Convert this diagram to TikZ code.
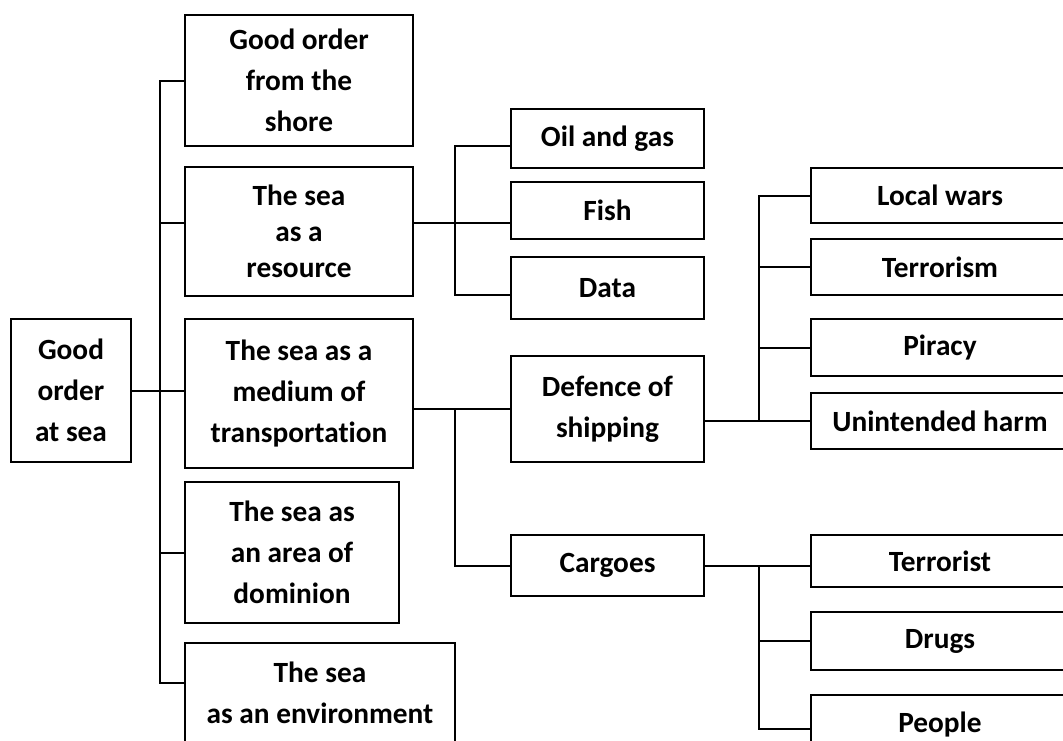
\documentclass[tikz,border=0pt]{standalone}
\usepackage{fontspec}
\setmainfont{Carlito}[Ligatures=NoCommon]
\begin{document}
\begin{tikzpicture}[x=0.75pt,y=-0.75pt,line width=1.5pt]
  % Local definitions
  \def\px{0.75pt}

  % Styles
  \tikzstyle{box}=[draw,inner sep=0pt,outer sep=0pt,align=center,
    font=\fontsize{22}{30.75}\selectfont\bfseries]
  \tikzstyle{topic box}=[box,minimum width=228*\px]
  \tikzstyle{mid box}=[box,minimum width=193*\px]
  \tikzstyle{end box}=[box,minimum width=258*\px]

  % The frame
  \clip (0,0) rectangle (1063,740);

  % Root and the five topics
  \node[box,minimum width=120*\px,minimum height=143*\px] (root) at (71,390.5) {Good\\order\\at sea};
  \node[topic box,minimum height=131*\px] (shore) at (299,80.5) {Good order\\from the\\shore};
  \node[topic box,minimum height=129*\px,font=\fontsize{22}{27}\selectfont\bfseries]
    (resource) at (299,231.5) {The sea\\as a\\resource};
  \node[topic box,minimum height=149*\px] (transport) at (299,393.5) {The sea as a\\medium of\\transportation};
  \node[box,minimum width=214*\px,minimum height=141*\px] (dominion) at (292,552.5) {The sea as\\an area of\\dominion};
  \node[box,minimum width=270*\px,minimum height=100*\px] (environment) at (320,693) {The sea\\as an environment};

  % Second level
  \node[mid box,minimum height=59*\px] (oil) at (607.5,138.5) {Oil and gas};
  \node[mid box,minimum height=57*\px] (fish) at (607.5,210.5) {Fish};
  \node[mid box,minimum height=62*\px] (data) at (607.5,288) {Data};
  \node[mid box,minimum height=106*\px] (defence) at (607.5,409) {Defence of\\shipping};
  \node[mid box,minimum height=61*\px] (cargoes) at (607.5,565.5) {Cargoes};

  % Third level
  \node[end box,minimum height=55*\px] (localwars) at (940,195.5) {Local wars};
  \node[end box,minimum height=56*\px] (terrorism) at (940,267) {Terrorism};
  \node[end box,minimum height=57*\px] (piracy) at (940,347.5) {Piracy};
  \node[end box,minimum height=56*\px] (harm) at (940,421) {Unintended harm};
  \node[end box,minimum height=52*\px] (terrorist) at (940,561) {Terrorist};
  \node[end box,minimum height=58*\px] (drugs) at (940,641) {Drugs};
  \node[end box,minimum height=58*\px] (people) at (940,724) {People};

  % Buses
  \coordinate (trunk) at (160,0);
  \coordinate (resbus) at (455,0);
  \coordinate (shipbus) at (759,0);

  % Connectors of the root
  \coordinate (resin) at ([yshift=6.4pt]resource.west);
  \coordinate (envin) at ([yshift=7.5pt]environment.west);
  \draw (root.east) -- (root.east -| transport.west);
  \draw (shore.west) -- (shore.west -| trunk) |- (envin);
  \foreach \n in {resin, dominion.west}
    \draw (\n) -- (\n -| trunk);

  % Connectors of the resource
  \coordinate (resout) at ([yshift=6.4pt]resource.east);
  \coordinate (oilin) at ([yshift=-5.6pt]oil.west);
  \coordinate (datain) at ([yshift=-5.3pt]data.west);
  \draw (resout) -- (resout -| fish.west);
  \draw (oilin) -- (oilin -| resbus) |- (datain);

  % Connectors of the transportation
  \draw (transport.east |- defence.west) -- (defence.west);
  \draw (defence.west -| resbus) |- (cargoes.west);

  % Connectors of the shipping
  \draw (defence.east |- harm.west) -- (harm.west);
  \draw (localwars.west) -- (localwars.west -| shipbus) |- (harm.west);
  \foreach \n in {terrorism, piracy}
    \draw (\n.west) -- (\n.west -| shipbus);

  % Connectors of the cargoes
  \coordinate (peoplein) at ([yshift=-3.75pt]people.west);
  \draw (cargoes.east) -- (cargoes.east -| terrorist.west);
  \draw (cargoes.east -| shipbus) |- (peoplein);
  \draw (drugs.west) -- (drugs.west -| shipbus);
\end{tikzpicture}
\end{document}
